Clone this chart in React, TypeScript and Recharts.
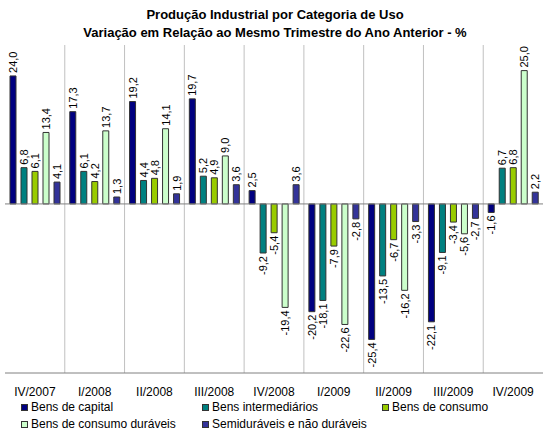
import React from "react";
import {
  BarChart,
  Bar,
  XAxis,
  YAxis,
  CartesianGrid,
  ReferenceLine,
  LabelList,
} from "recharts";

const quarters = ["IV/2007", "I/2008", "II/2008", "III/2008", "IV/2008", "I/2009", "II/2009", "III/2009", "IV/2009"];
const capital = [24.0, 17.3, 19.2, 19.7, 2.5, -20.2, -25.4, -22.1, -1.6];
const intermediarios = [6.8, 6.1, 4.4, 5.2, -9.2, -18.1, -13.5, -9.1, 6.7];
const consumo = [6.1, 4.2, 4.8, 4.9, -5.4, -7.9, -6.7, -3.4, 6.8];
const duraveis = [13.4, 13.7, 14.1, 9.0, -19.4, -22.6, -16.2, -5.6, 25.0];
const semiduraveis = [4.1, 1.3, 1.9, 3.6, 3.6, -2.8, -3.3, -2.7, 2.2];

const series = [
  { key: "capital", name: "Bens de capital", color: "#000080" },
  { key: "intermediarios", name: "Bens intermediários", color: "#008080" },
  { key: "consumo", name: "Bens de consumo", color: "#99CC00" },
  { key: "duraveis", name: "Bens de consumo duráveis", color: "#CCFFCC" },
  { key: "semiduraveis", name: "Semiduráveis e não duráveis", color: "#333399" },
];

const data = quarters.map((q, i) => ({
  name: q,
  capital: capital[i],
  intermediarios: intermediarios[i],
  consumo: consumo[i],
  duraveis: duraveis[i],
  semiduraveis: semiduraveis[i],
}));

const FONT = "'Liberation Sans', Arial, sans-serif";

const fmt = (v: number) => v.toFixed(1).replace(".", ",");

const RotLabel = (props: any) => {
  const { x, y, width, height, value } = props;
  const cx = x + width / 2 + 4;
  const neg = value < 0;
  const top = Math.min(y, y + height);
  const bottom = Math.max(y, y + height);
  const yy = neg ? bottom + 3 : top - 3;
  return (
    <text
      x={cx}
      y={yy}
      transform={`rotate(-90, ${cx}, ${yy})`}
      textAnchor={neg ? "end" : "start"}
      fontSize={11}
      fontFamily={FONT}
      fill="#000"
    >
      {fmt(value)}
    </text>
  );
};

const legendRows = [
  [
    { s: series[0], x: 21 },
    { s: series[1], x: 202 },
    { s: series[2], x: 382 },
  ],
  [
    { s: series[3], x: 21 },
    { s: series[4], x: 202 },
  ],
];

export default function App() {
  return (
    <div style={{ position: "absolute", left: 0, top: 0, width: 550, height: 440, background: "#fff", fontFamily: FONT }}>
      <div style={{ position: "absolute", top: 6, width: 550, textAlign: "center", fontSize: 13, fontWeight: "bold", lineHeight: "18px" }}>
        Produção Industrial por Categoria de Uso
        <br />
        Variação em Relação ao Mesmo Trimestre do Ano Anterior - %
      </div>
      <div style={{ position: "absolute", left: 0, top: 0 }}>
        <BarChart
          width={550}
          height={440}
          data={data}
          margin={{ top: 45, right: 7, bottom: 47, left: 5 }}
          barSize={6}
          barGap={5}
          barCategoryGap={5}
        >
          <CartesianGrid
            horizontal={false}
            stroke="#C0C0C0"
            verticalCoordinatesGenerator={({ offset }: any) =>
              quarters.slice(1).map((_, i) => offset.left + ((i + 1) * offset.width) / quarters.length)
            }
          />
          <XAxis
            dataKey="name"
            axisLine={{ stroke: "#808080" }}
            tickLine={false}
            tickMargin={8}
            height={20}
            interval={0}
            tick={{ fontSize: 12, fill: "#000", fontFamily: FONT }}
          />
          <XAxis xAxisId="top" orientation="top" dataKey="name" axisLine={{ stroke: "#808080" }} tick={false} tickLine={false} height={0} />
          <YAxis domain={[-31.7, 29.8]} axisLine={{ stroke: "#808080" }} tick={false} tickLine={false} width={0} />
          <YAxis yAxisId="right" orientation="right" domain={[-31.7, 29.8]} axisLine={{ stroke: "#808080" }} tick={false} tickLine={false} width={0} />
          <ReferenceLine y={0} stroke="#808080" />
          {series.map((s) => (
            <Bar key={s.key} dataKey={s.key} name={s.name} fill={s.color} stroke="#333333" strokeWidth={1} isAnimationActive={false}>
              <LabelList dataKey={s.key} content={RotLabel} />
            </Bar>
          ))}
        </BarChart>
      </div>
      {legendRows.map((row, r) =>
        row.map(({ s, x }) => (
          <div
            key={s.key}
            style={{ position: "absolute", left: x, top: 400 + r * 17, fontSize: 12, lineHeight: "14px", display: "flex", alignItems: "center", whiteSpace: "nowrap" }}
          >
            <span style={{ display: "inline-block", width: 5, height: 5, border: "1px solid #333", background: s.color, marginRight: 3 }} />
            {s.name}
          </div>
        ))
      )}
    </div>
  );
}
